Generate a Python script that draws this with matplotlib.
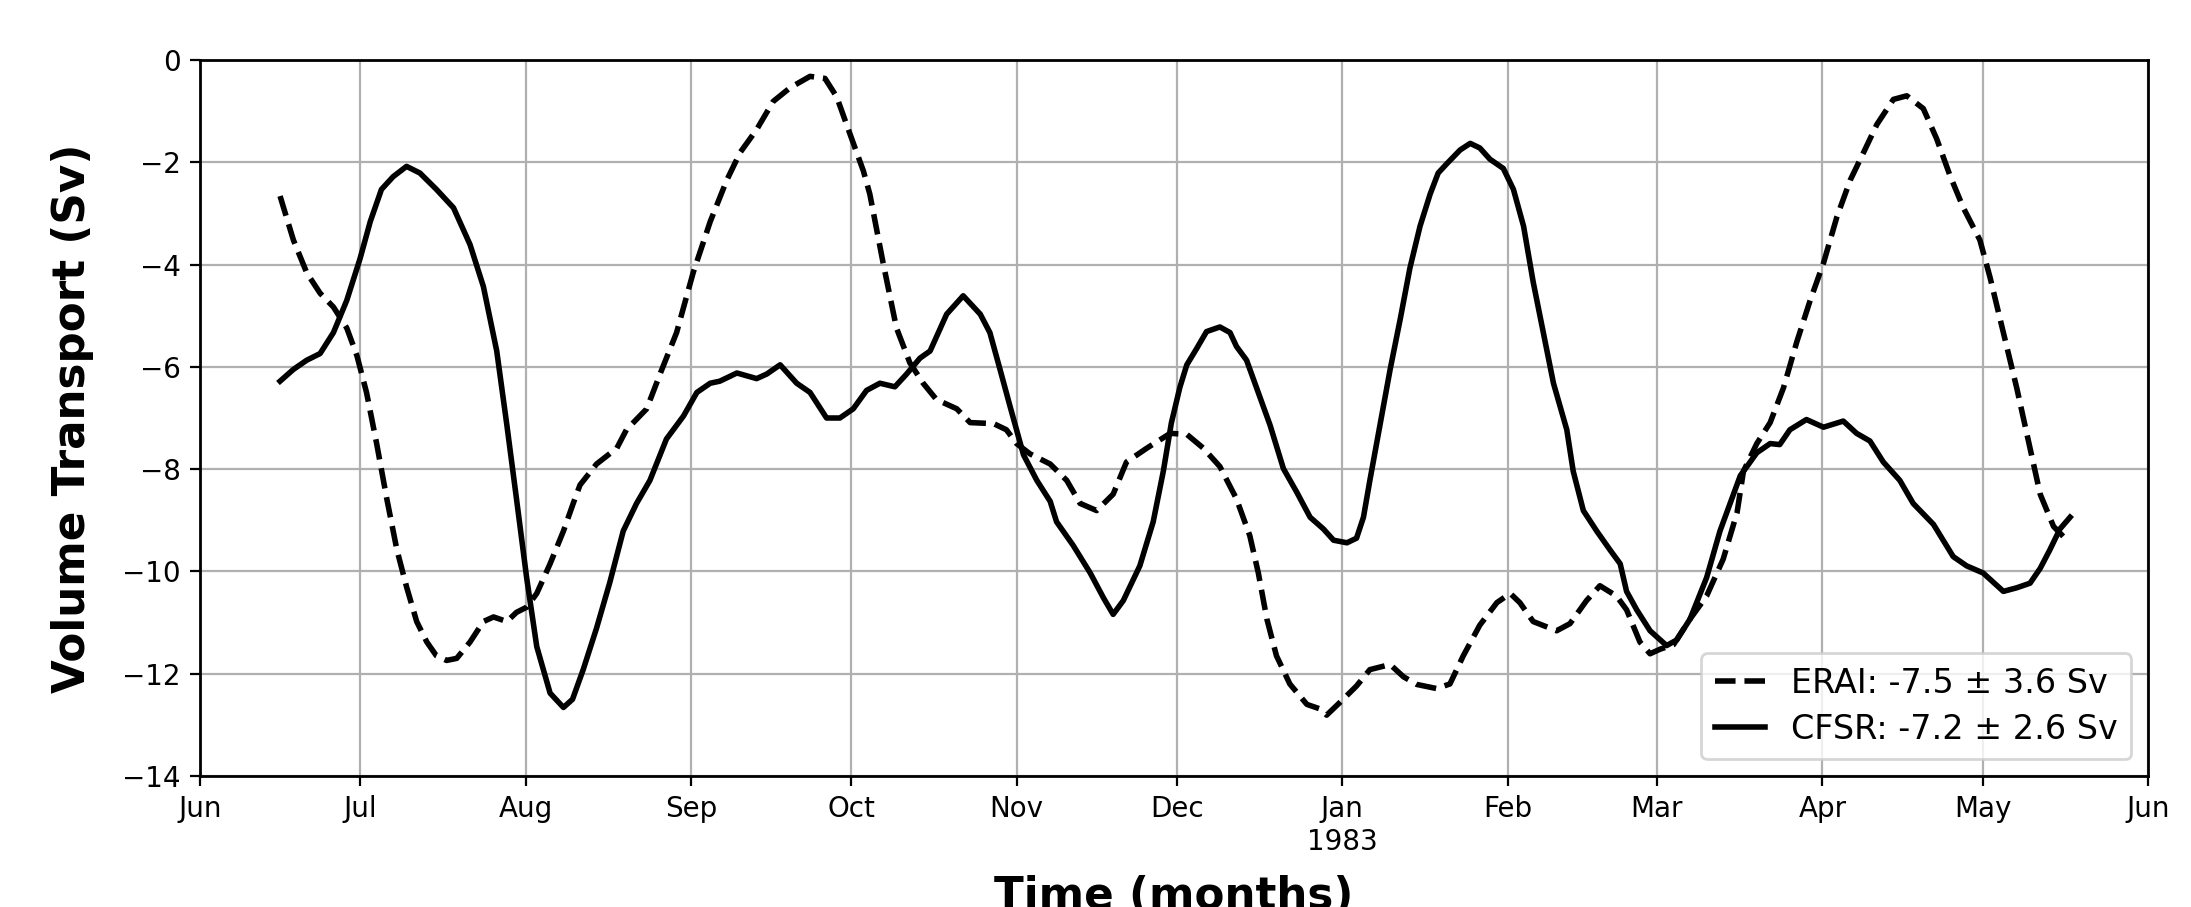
import numpy as np
import pandas as pd
import matplotlib
matplotlib.use('Agg')
import matplotlib.pyplot as plt
import matplotlib.dates as mdates
from matplotlib.ticker import FuncFormatter

start = pd.Timestamp('1982-06-01')

# days since 1 Jun 1982, transport in Sv
erai_day = [15.0, 17.5, 20.0, 22.5, 25.0, 27.5, 29.4, 31.2, 33.1, 35.0, 36.9, 38.7, 40.6, 42.5, 44.3,
            46.2, 48.1, 50.6, 53.1, 55.0, 57.5, 59.3, 61.2, 63.1, 65.6, 68.1, 70.0, 71.2, 74.3, 78.1,
            79.9, 83.7, 86.2, 89.3, 92.4, 95.6, 98.7, 101.2, 104.3, 107.4, 110.6, 114.3, 117.1, 119.3,
            121.8, 124.3, 125.5, 128.0, 130.5, 133.0, 135.5, 138.0, 141.8, 144.3, 148.7, 151.1, 153.0,
            155.5, 159.3, 162.4, 164.9, 168.0, 171.1, 173.6, 177.4, 181.8, 184.9, 188.0, 191.1, 194.2,
            196.7, 198.3, 199.9, 201.7, 204.2, 207.4, 209.9, 211.1, 213.6, 216.7, 219.2, 223.0, 225.5,
            228.0, 231.7, 234.2, 236.7, 239.8, 243.0, 245.5, 247.3, 249.8, 254.2, 256.7, 259.8, 262.3,
            265.4, 267.3, 269.8, 271.7, 273.6, 276.1, 279.2, 282.3, 285.4, 288.0, 289.2, 291.7, 294.2,
            296.7, 299.2, 301.7, 304.2, 306.7, 309.2, 311.7, 314.2, 317.3, 319.8, 322.9, 325.4, 327.9,
            330.4, 333.5, 335.4, 337.9, 340.4, 342.9, 344.8, 347.3, 349.8]
erai_val = [-2.66, -3.52, -4.16, -4.56, -4.83, -5.24, -5.78, -6.50, -7.50, -8.58, -9.58, -10.30, -10.98,
            -11.38, -11.65, -11.74, -11.70, -11.38, -10.98, -10.89, -10.98, -10.80, -10.70, -10.43, -9.85,
            -9.21, -8.65, -8.31, -7.90, -7.59, -7.23, -6.82, -6.14, -5.33, -4.16, -3.16, -2.35, -1.81,
            -1.36, -0.81, -0.54, -0.32, -0.36, -0.72, -1.45, -2.17, -2.62, -3.97, -5.24, -5.92, -6.32,
            -6.64, -6.82, -7.09, -7.11, -7.23, -7.50, -7.70, -7.90, -8.22, -8.67, -8.81, -8.49, -7.86,
            -7.59, -7.30, -7.32, -7.59, -7.95, -8.58, -9.30, -10.03, -10.93, -11.65, -12.20, -12.60,
            -12.69, -12.81, -12.56, -12.24, -11.92, -11.82, -12.06, -12.21, -12.29, -12.20, -11.65,
            -11.05, -10.61, -10.43, -10.61, -10.98, -11.16, -11.02, -10.57, -10.28, -10.48, -10.75,
            -11.38, -11.61, -11.52, -11.43, -10.93, -10.48, -9.76, -8.85, -8.04, -7.50, -7.09, -6.41,
            -5.51, -4.70, -3.97, -3.07, -2.35, -1.81, -1.26, -0.77, -0.70, -0.95, -1.54, -2.26, -2.89,
            -3.52, -4.25, -5.33, -6.41, -7.59, -8.49, -9.12, -9.39]

cfsr_day = [15.0, 17.5, 20.0, 22.5, 25.0, 27.5, 30.0, 31.9, 34.0, 36.2, 38.7, 41.2, 44.3, 47.5, 50.6,
            53.1, 55.6, 57.5, 59.3, 61.2, 63.1, 65.6, 68.1, 69.8, 71.8, 74.3, 76.8, 79.3, 81.8, 84.3,
            87.4, 90.6, 93.1, 95.6, 97.4, 100.6, 104.3, 106.2, 108.7, 111.8, 114.3, 117.4, 119.9, 122.4,
            124.9, 127.4, 130.2, 132.4, 134.9, 136.8, 139.9, 143.0, 146.2, 148.0, 149.9, 151.8, 154.3,
            156.8, 159.3, 160.5, 163.6, 166.8, 169.3, 171.1, 173.0, 176.1, 178.6, 180.5, 182.0, 183.6,
            184.9, 186.7, 188.6, 191.1, 193.0, 194.2, 196.1, 198.6, 200.5, 203.0, 205.5, 208.0, 210.5,
            212.4, 214.9, 216.7, 218.0, 219.2, 221.1, 223.0, 224.9, 226.7, 228.6, 230.5, 232.0, 233.6,
            236.1, 238.0, 239.8, 241.7, 244.2, 246.1, 248.0, 249.8, 251.7, 253.6, 256.1, 257.3, 259.2,
            261.7, 264.2, 266.1, 267.3, 269.2, 271.7, 274.8, 276.7, 279.2, 282.3, 284.8, 288.6, 291.7,
            294.2, 296.0, 297.9, 301.0, 304.2, 307.9, 310.4, 312.9, 315.4, 318.5, 321.0, 324.8, 328.5,
            331.0, 334.1, 336.0, 337.9, 340.4, 342.9, 344.8, 346.6, 348.5, 350.4]
cfsr_val = [-6.28, -6.05, -5.87, -5.74, -5.33, -4.70, -3.88, -3.16, -2.53, -2.28, -2.08, -2.21, -2.53,
            -2.89, -3.61, -4.43, -5.69, -7.14, -8.58, -10.12, -11.47, -12.38, -12.66, -12.50, -11.92,
            -11.11, -10.21, -9.21, -8.67, -8.22, -7.41, -6.96, -6.50, -6.32, -6.28, -6.12, -6.23, -6.14,
            -5.96, -6.32, -6.50, -7.00, -7.00, -6.82, -6.46, -6.32, -6.39, -6.14, -5.83, -5.69, -4.97,
            -4.61, -4.97, -5.33, -6.05, -6.78, -7.72, -8.22, -8.63, -9.03, -9.49, -10.03, -10.52, -10.84,
            -10.57, -9.89, -9.03, -8.04, -7.10, -6.40, -5.96, -5.65, -5.31, -5.22, -5.33, -5.60, -5.87,
            -6.59, -7.14, -7.99, -8.45, -8.94, -9.17, -9.39, -9.44, -9.35, -8.94, -8.22, -7.14, -6.05,
            -5.06, -4.07, -3.25, -2.62, -2.21, -2.03, -1.76, -1.63, -1.72, -1.94, -2.12, -2.53, -3.25,
            -4.34, -5.33, -6.32, -7.23, -8.04, -8.81, -9.21, -9.58, -9.85, -10.39, -10.75, -11.16,
            -11.45, -11.34, -10.93, -10.12, -9.21, -8.13, -7.68, -7.50, -7.52, -7.23, -7.03, -7.18,
            -7.06, -7.30, -7.45, -7.86, -8.22, -8.67, -9.08, -9.71, -9.89, -10.03, -10.21, -10.39,
            -10.32, -10.23, -9.94, -9.58, -9.17, -8.94]

erai_label = 'ERAI: -7.5 ± 3.6 Sv'
cfsr_label = 'CFSR: -7.2 ± 2.6 Sv'

erai_t = start + pd.to_timedelta(np.array(erai_day), unit='D')
cfsr_t = start + pd.to_timedelta(np.array(cfsr_day), unit='D')

fig = plt.figure(figsize=(2191 / 200, 907 / 200), dpi=200)
ax = fig.add_axes([200 / 2191, 1 - 776 / 907, 1948 / 2191, 716 / 907])

ax.plot(erai_t, erai_val, 'k--', lw=2.0, label=erai_label)
ax.plot(cfsr_t, cfsr_val, 'k-', lw=2.0, label=cfsr_label)

ax.set_xlim(pd.Timestamp('1982-06-01'), pd.Timestamp('1983-06-01'))
ax.set_ylim(-14, 0)
ax.set_yticks(np.arange(-14, 1, 2))
ax.xaxis.set_major_locator(mdates.MonthLocator())


def month_fmt(x, pos):
    d = mdates.num2date(x)
    if d.month == 1:
        return d.strftime('%b') + '\n' + d.strftime('%Y')
    return d.strftime('%b')


ax.xaxis.set_major_formatter(FuncFormatter(month_fmt))
ax.tick_params(labelsize=10)
ax.grid(True, color='#b0b0b0', lw=0.8)
ax.set_axisbelow(True)
for s in ax.spines.values():
    s.set_linewidth(1.0)

ax.set_xlabel('Time (months)', fontsize=15.7, fontweight='bold', labelpad=7)
ax.set_ylabel('Volume Transport (Sv)', fontsize=15.7, fontweight='bold', labelpad=10)
ax.legend(loc='lower right', fontsize=12, handlelength=1.5, labelspacing=0.4)

fig.savefig('out.png', dpi=200)
